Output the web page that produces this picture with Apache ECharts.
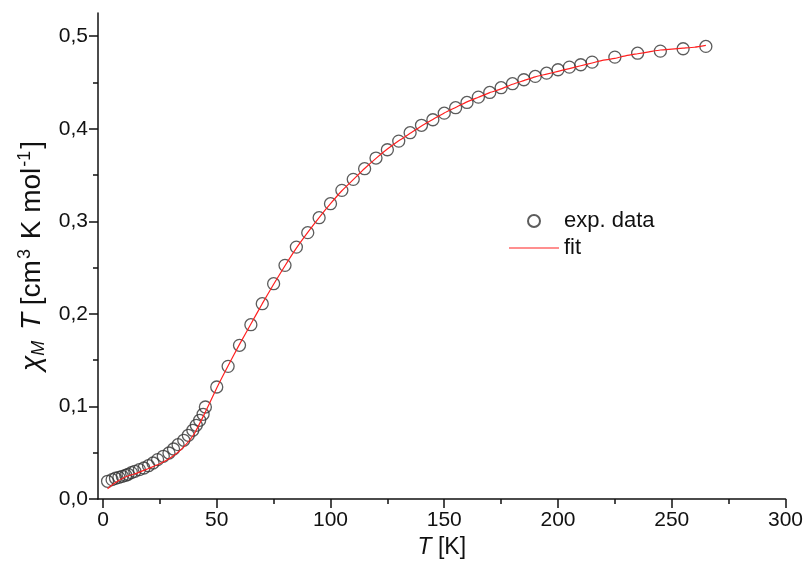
<!DOCTYPE html>
<html>
<head>
<meta charset="utf-8">
<script src="https://cdn.jsdelivr.net/npm/echarts@6/dist/echarts.min.js"></script>
<style>
html,body{margin:0;padding:0;background:#fff;}
#chart{width:806px;height:570px;}
</style>
</head>
<body>
<div id="chart"></div>
<script>
// experimental data
var expT = [2, 4, 5.5, 7, 8.5, 10, 11, 12.5, 14, 16, 18, 20, 22, 24, 26.5, 29, 31, 33, 35.5, 37.5, 39.5, 41, 42.5, 44, 45,
  50, 55, 60, 65, 70, 75, 80, 85, 90, 95, 100, 105, 110, 115, 120, 125, 130, 135, 140, 145, 150, 155, 160, 165, 170,
  175, 180, 185, 190, 195, 200, 205, 210, 215, 225, 235, 245, 255, 265];
var expChiT = [0.0191, 0.0209, 0.0224, 0.0234, 0.0245, 0.0256, 0.0267, 0.0285, 0.0299, 0.0317, 0.0335, 0.0360, 0.0389, 0.0425,
  0.0461, 0.0497, 0.0540, 0.0587, 0.0634, 0.0688, 0.0742, 0.0796, 0.0850, 0.0915, 0.0994,
  0.1210, 0.1433, 0.1660, 0.1883, 0.2110, 0.2326, 0.2524, 0.2721, 0.2877, 0.3039, 0.3190, 0.3334, 0.3453, 0.3568,
  0.3683, 0.3773, 0.3866, 0.3957, 0.4037, 0.4097, 0.4168, 0.4227, 0.4284, 0.4341, 0.4392, 0.4443, 0.4486, 0.4529,
  0.4565, 0.4600, 0.4637, 0.4665, 0.4691, 0.4719, 0.4773, 0.4816, 0.4838, 0.4864, 0.4889];
// fit curve
var fitT = [2, 5, 10, 15, 20, 25, 30, 35, 40, 45, 50, 55, 60, 65, 70, 75, 80, 85, 90, 95, 100, 105, 110, 115, 120, 125,
  130, 135, 140, 145, 150, 155, 160, 165, 170, 175, 180, 185, 190, 195, 200, 205, 210, 215, 220, 225, 230, 235, 240,
  245, 250, 255, 260, 265];
var fitChiT = [0.011, 0.017, 0.024, 0.028, 0.033, 0.038, 0.045, 0.055, 0.070, 0.094, 0.120, 0.144, 0.167, 0.189, 0.211,
  0.232, 0.252, 0.271, 0.288, 0.304, 0.319, 0.333, 0.345, 0.357, 0.368, 0.378, 0.387, 0.395, 0.403, 0.410, 0.417,
  0.423, 0.429, 0.434, 0.439, 0.443, 0.448, 0.452, 0.456, 0.459, 0.462, 0.465, 0.468, 0.471, 0.474, 0.476, 0.479,
  0.481, 0.483, 0.485, 0.486, 0.487, 0.488, 0.490];
// ticks
var xMajorTicks = [0, 50, 100, 150, 200, 250, 300];
var xMinorTicks = [25, 75, 125, 175, 225, 275];
var yMajorTicks = [0, 0.1, 0.2, 0.3, 0.4, 0.5];
var yMinorTicks = [0.05, 0.15, 0.25, 0.35, 0.45];
var seriesNames = ['exp. data', 'fit'];

var FONT = 'Liberation Sans, Arial, sans-serif';
var AX = '#111';
var RED = '#ff2020';

function pairs(xs, ys) { return xs.map(function (x, i) { return [x, ys[i]]; }); }

var chart = echarts.init(document.getElementById('chart'), null, {renderer: 'canvas'});
var xMin = -2.2, xMax = 300, yMin = 0, yMax = 0.525;

chart.setOption({
  backgroundColor: '#fff',
  animation: false,
  grid: {left: 98, right: 20, top: 13, bottom: 71, containLabel: false},
  legend: {
    orient: 'vertical', left: 504, top: 205, itemWidth: 50, itemHeight: 12, itemGap: 5,
    data: [
      {name: seriesNames[0]},
      {name: seriesNames[1], icon: 'path://M0,0H50V1.2H0Z', itemStyle: {color: RED, borderWidth: 0}, lineStyle: {color: RED, width: 1.2}}
    ],
    textStyle: {fontFamily: FONT, fontSize: 22, color: '#111'}
  },
  xAxis: [{
    type: 'value', min: xMin, max: xMax,
    name: '{i|T} [K]', nameLocation: 'middle', nameGap: 37,
    nameTextStyle: {fontFamily: FONT, fontSize: 23, color: '#111', rich: {i: {fontStyle: 'italic', fontFamily: FONT, fontSize: 23, color: '#111'}}},
    axisLine: {onZero: false, lineStyle: {color: AX, width: 1.5}},
    axisTick: {inside: false, length: 9, lineStyle: {color: AX, width: 1.5}, customValues: xMajorTicks},
    axisLabel: {margin: 11, fontFamily: FONT, fontSize: 21, color: '#111', customValues: xMajorTicks},
    splitLine: {show: false}
  }, {
    type: 'value', min: xMin, max: xMax, position: 'bottom',
    axisLine: {show: false, onZero: false},
    axisTick: {inside: false, length: 5, lineStyle: {color: AX, width: 1.5}, customValues: xMinorTicks},
    axisLabel: {show: false},
    splitLine: {show: false}
  }],
  yAxis: [{
    type: 'value', min: yMin, max: yMax,
    name: '{i|\u03C7}{sub|M}{i| T}{n| [cm}{sup|3}{n| K mol}{sup|-1}{n|]}',
    nameLocation: 'middle', nameGap: 50, nameRotate: 90,
    nameTextStyle: {
      fontFamily: FONT, fontSize: 28, color: '#111', lineHeight: 32,
      rich: {
        n: {fontFamily: FONT, fontSize: 28, color: '#111', lineHeight: 32},
        i: {fontStyle: 'italic', fontFamily: FONT, fontSize: 28, color: '#111', lineHeight: 32},
        sub: {fontStyle: 'italic', fontFamily: FONT, fontSize: 18, color: '#111', verticalAlign: 'bottom', lineHeight: 30, padding: [0, 3, 0, 0]},
        sup: {fontFamily: FONT, fontSize: 18, color: '#111', verticalAlign: 'top', lineHeight: 18, padding: [0, 2, 0, 1]}
      }
    },
    axisLine: {onZero: false, lineStyle: {color: AX, width: 1.5}},
    axisTick: {inside: false, length: 9, lineStyle: {color: AX, width: 1.5}, customValues: yMajorTicks},
    axisLabel: {
      margin: 10, fontFamily: FONT, fontSize: 21, color: '#111', customValues: yMajorTicks,
      formatter: function (v) { return v.toFixed(1).replace('.', ','); }
    },
    splitLine: {show: false}
  }, {
    type: 'value', min: yMin, max: yMax, position: 'left',
    axisLine: {show: false, onZero: false},
    axisTick: {inside: false, length: 5, lineStyle: {color: AX, width: 1.5}, customValues: yMinorTicks},
    axisLabel: {show: false},
    splitLine: {show: false}
  }],
  series: [{
    name: seriesNames[0], type: 'scatter', xAxisIndex: 0, yAxisIndex: 0,
    symbol: 'circle', symbolSize: 12,
    itemStyle: {color: 'rgba(255,255,255,0)', borderColor: '#333', borderWidth: 1.3},
    data: pairs(expT, expChiT), z: 2
  }, {
    name: seriesNames[1], type: 'line', xAxisIndex: 0, yAxisIndex: 0,
    symbol: 'none', showSymbol: false, smooth: 0.2,
    lineStyle: {color: RED, width: 1.2},
    itemStyle: {color: RED},
    data: pairs(fitT, fitChiT), z: 3
  }]
});
</script>
</body>
</html>
